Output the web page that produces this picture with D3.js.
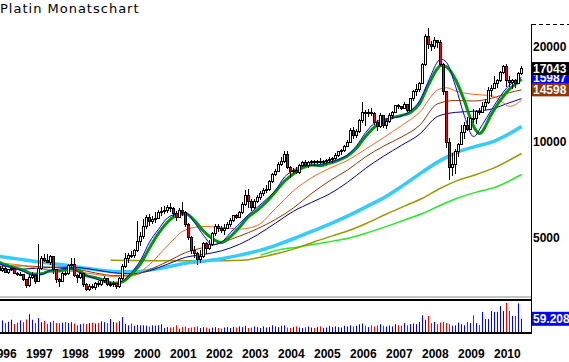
<!DOCTYPE html>
<html>
<head>
<meta charset="utf-8">
<script src="https://cdn.jsdelivr.net/npm/d3@7"></script>
<style>
  body { margin: 0; background: #fff; }
  svg { display: block; font-family: "Liberation Sans", Arial, sans-serif; }
</style>
</head>
<body>
<svg id="chart" width="569" height="362"></svg>
<script>
// monthly candles, Mar 1996 .. Oct 2010: [open, high, low, close]
const ohlc = [
  // 1996 (Mar-Dec)
  [4150,4230,4030,4060],[4060,4120,3920,3940],[3940,4060,3900,4000],[4000,4040,3870,3890],[3890,3990,3850,3960],
  [3960,4070,3930,3990],[3990,4020,3830,3860],[3860,3900,3780,3820],[3820,3890,3780,3830],[3830,3850,3640,3690],
  // 1997
  [3690,3700,3460,3520],[3520,3800,3500,3740],[3740,3880,3700,3800],[3800,3820,3580,3640],[3640,4760,3620,4000],[4000,4380,3960,4300],
  [4300,4450,4180,4220],[4220,4420,4150,4180],[4180,4400,4100,4350],[4350,4380,3850,3950],[3950,3990,3600,3680],[3680,3720,3480,3640],
  // 1998
  [3640,3900,3620,3860],[3860,4020,3780,3850],[3850,4130,3820,4080],[4080,4300,3980,4100],[4100,4300,3750,3800],[3800,3850,3600,3730],
  [3730,3900,3700,3850],[3850,3860,3480,3550],[3550,3600,3380,3430],[3430,3560,3400,3500],[3500,3560,3440,3480],[3480,3620,3420,3580],
  // 1999
  [3580,3640,3500,3560],[3560,3700,3520,3660],[3660,3780,3600,3720],[3720,3740,3520,3560],[3560,3620,3500,3560],[3560,3640,3500,3580],
  [3580,3600,3440,3500],[3500,3760,3470,3720],[3720,4120,3680,4050],[4050,4460,4000,4300],[4300,4480,4150,4400],[4400,4520,4300,4380],
  // 2000
  [4380,4600,4300,4550],[4550,5650,4500,4850],[4850,5200,4700,5050],[5050,5700,4950,5400],[5400,5900,5300,5800],[5800,5950,5450,5600],
  [5600,5850,5500,5700],[5700,6000,5550,5750],[5750,6100,5700,6000],[6000,6250,5850,6050],[6050,6300,5950,6100],[6100,6350,5980,6200],
  // 2001
  [6200,6400,6000,6150],[6150,6250,5800,5950],[5950,6050,5650,5800],[5800,6200,5750,6100],[6100,6450,5850,6000],[6000,6050,5400,5500],
  [5500,5550,4900,5000],[5000,5050,4450,4550],[4550,4700,4300,4450],[4450,4500,4100,4250],[4250,4550,4150,4350],[4350,4850,4300,4800],
  // 2002
  [4800,4850,4450,4600],[4600,4900,4550,4750],[4750,5200,4700,5150],[5150,5500,5050,5400],[5400,5500,5200,5350],[5350,5450,5150,5250],
  [5250,5500,5100,5350],[5350,5600,5300,5500],[5500,5750,5400,5650],[5650,5900,5600,5850],[5850,5950,5700,5800],[5800,6050,5750,5980],
  // 2003
  [5980,6450,5950,6350],[6350,7050,6300,6800],[6800,7100,6200,6500],[6500,6600,6050,6200],[6200,6600,6150,6500],[6500,6800,6400,6700],
  [6700,7000,6550,6900],[6900,7150,6750,7050],[7050,7300,6900,7100],[7100,7600,7000,7500],[7500,8000,7400,7900],[7900,8200,7800,8100],
  // 2004
  [8100,8650,8050,8500],[8500,8950,8400,8700],[8700,9400,8600,9100],[9100,9400,8200,8300],[8300,8400,7700,8050],[8050,8300,7950,8150],
  [8150,8350,7950,8000],[8000,8550,7950,8450],[8450,8700,8350,8600],[8600,8800,8350,8450],[8450,8700,8300,8600],[8600,8750,8400,8650],
  // 2005
  [8650,8800,8450,8600],[8600,8800,8500,8700],[8700,8900,8550,8650],[8650,8800,8550,8680],[8680,8850,8550,8720],[8720,8950,8600,8800],
  [8800,8950,8600,8900],[8900,9200,8800,9050],[9050,9400,8950,9300],[9300,9500,9100,9400],[9400,9800,9300,9700],[9700,10150,9650,9950],
  // 2006
  [9950,11050,9900,10900],[10900,11150,10200,10450],[10450,11000,10300,10800],[10800,11800,10700,11700],[11700,13400,11500,12400],[12400,12600,11200,12300],
  [12300,12700,12000,12400],[12400,12800,12100,12300],[12300,12400,11300,11500],[11500,11700,10800,11200],[11200,12300,11100,12100],[12100,12200,11050,11250],
  // 2007
  [11250,11800,11000,11600],[11600,12300,11500,12100],[12100,12500,11800,12400],[12400,13100,12300,13000],[13000,13200,12750,12900],[12900,13000,12600,12750],
  [12750,13350,12700,13100],[13100,13200,12400,12600],[12600,13800,12550,13700],[13700,14600,13500,14400],[14400,15200,14000,14600],[14600,15500,14400,15300],
  // 2008
  [15300,17800,15200,17500],[17500,21900,17300,21500],[21500,22900,19600,20300],[20300,20800,19300,20000],[20000,21500,19700,20900],[20900,21000,19800,20600],
  [20600,21000,17300,17600],[17600,17800,14100,14400],[14400,14500,9600,10000],[10000,10300,7600,8300],[8300,9200,7800,8500],[8500,9500,7900,9300],
  // 2009
  [9300,9900,9000,9850],[9850,11300,9800,10750],[10750,11600,10200,11250],[11250,12000,10800,10950],[10950,12000,10900,11900],[11900,12700,11450,11850],
  [11850,12600,11400,12500],[12500,12800,12150,12400],[12400,13400,12300,12900],[12900,13700,12650,13300],[13300,14900,13200,14550],[14550,15100,13900,14700],
  // 2010 (Jan-Oct)
  [14700,16200,14650,15300],[15300,15800,14800,15650],[15650,16700,15500,16550],[16550,17550,16400,17250],[17250,17600,14900,15650],
  [15650,16100,14950,15350],[15350,15800,14650,15600],[15600,15800,14850,15300],[15300,16600,15200,16450],[16450,17300,16300,17043]
];

const volumes = [
  44,48,52,40,46,55,36,42,52,44,
  56,80,55,40,62,44,50,36,44,50,40,40,
  42,45,40,44,38,30,35,38,36,40,42,38,
  40,48,44,40,58,45,42,48,67,36,30,38,
  28,32,30,30,28,25,30,28,30,35,18,22,
  20,22,30,15,22,25,18,20,22,25,18,22,
  20,15,20,22,18,15,20,22,18,22,20,25,
  22,28,18,20,25,22,18,25,20,22,30,25,
  22,28,30,20,18,22,25,20,18,22,25,20,
  18,22,25,18,20,28,22,25,22,20,28,25,
  30,25,28,35,38,28,22,30,25,30,35,28,
  25,30,25,35,30,28,40,30,35,38,35,45,
  75,55,72,40,45,35,42,45,40,35,28,30,
  42,35,30,45,40,75,40,32,90,58,58,94,
  90,90,116,94,130,94,72,72,128,59.208
];

const years = [1996,1997,1998,1999,2000,2001,2002,2003,2004,2005,2006,2007,2008,2009,2010];
const priceTicks = [5000, 10000, 20000];

// moving averages
const maGreen = [["1996-03",4209],["1996-06",4099],["1996-09",4017],["1996-12",3945],["1997-03",3837],["1997-06",3846],["1997-09",3924],["1997-12",3918],
  ["1998-03",3979],["1998-06",3953],["1998-09",3793],["1998-12",3734],["1999-03",3663],["1999-06",3586],["1999-09",3623],["1999-12",3833],
  ["2000-03",4125],["2000-06",4633],["2000-09",5148],["2000-12",5588],["2001-03",5875],["2001-06",5942],["2001-09",5654],["2001-12",5242],
  ["2002-03",4958],["2002-06",4825],["2002-09",5033],["2002-12",5386],["2003-03",5815],["2003-06",6098],["2003-09",6478],["2003-12",6967],
  ["2004-03",7521],["2004-06",7946],["2004-09",8279],["2004-12",8463],["2005-03",8433],["2005-06",8575],["2005-09",8758],["2005-12",9038],
  ["2006-03",9554],["2006-06",10404],["2006-09",11150],["2006-12",11608],["2007-03",11938],["2007-06",12125],["2007-09",12392],["2007-12",13204],
  ["2008-03",15138],["2008-06",17042],["2008-07",17417],["2008-09",17258],["2008-12",15742],["2009-03",13454],["2009-06",11221],["2009-08",10629],
  ["2009-12",12242],["2010-03",13546],["2010-06",14675],["2010-09",15471],["2010-10",15783]];
const maBlue = [["1996-03",4171],["1996-06",4059],["1996-09",4000],["1996-12",3904],["1997-03",3810],["1997-06",3820],["1997-09",3944],["1997-12",3976],
  ["1998-03",4011],["1998-06",3904],["1998-09",3789],["1998-12",3710],["1999-03",3606],["1999-06",3563],["1999-09",3649],["1999-12",3877],
  ["2000-03",4238],["2000-06",4838],["2000-09",5308],["2000-12",5765],["2001-03",5930],["2001-06",5985],["2001-09",5570],["2001-12",5080],
  ["2002-03",4740],["2002-06",4835],["2002-09",5180],["2002-12",5528],["2003-03",5903],["2003-06",6233],["2003-09",6608],["2003-12",7045],
  ["2004-03",7755],["2004-06",8140],["2004-09",8395],["2004-12",8435],["2005-03",8485],["2005-06",8645],["2005-09",8805],["2005-12",9115],
  ["2006-03",9725],["2006-06",10690],["2006-09",11470],["2006-12",11795],["2007-03",11915],["2007-06",12080],["2007-09",12540],["2007-12",13475],
  ["2008-03",15575],["2008-06",17880],["2008-07",18270],["2008-09",17810],["2008-12",14990],["2009-03",12055],["2009-06",10400],["2009-09",11365],
  ["2009-12",12630],["2010-03",13970],["2010-06",15120],["2010-09",15780],["2010-10",15987]];
const maOrange = [["1996-03",4160],["1996-06",4139],["1996-12",4079],["1997-06",3973],["1997-12",3932],["1998-06",3900],["1998-12",3826],
  ["1999-06",3770],["1999-12",3783],["2000-06",4110],["2000-12",4710],["2001-06",5288],["2001-12",5415],["2002-06",5383],["2002-12",5314],
  ["2003-06",5462],["2003-12",6176],["2004-06",7022],["2004-12",7715],["2005-06",8260],["2005-12",8750],["2006-06",9490],["2006-12",10323],
  ["2007-06",11265],["2007-12",12406],["2008-06",14583],["2008-09",14825],["2008-12",14473],["2009-06",14131],["2009-12",13992],
  ["2010-03",13500],["2010-06",12948],["2010-10",13535]];
const maBrown = [["1996-03",4060],["1996-06",4059],["1996-12",4069],["1997-06",4041],["1997-12",4025],["1998-06",3966],["1998-12",3866],
  ["1999-06",3795],["1999-12",3800],["2000-06",3960],["2000-12",4200],["2001-06",4480],["2001-12",4650],["2002-06",4820],["2002-12",5050],
  ["2003-06",5330],["2003-12",5700],["2004-06",6200],["2004-12",6880],["2005-06",7540],["2005-12",8156],["2006-06",8975],["2006-12",9703],
  ["2007-06",10368],["2007-12",11283],["2008-06",13190],["2008-12",13518],["2009-06",13463],["2009-12",13729],["2010-06",14313],["2010-10",14598]];
const maNavy = [["1996-03",3930],["1996-06",3938],["1996-12",3977],["1997-06",4006],["1997-12",4031],["1998-06",4019],["1998-12",3953],
  ["1999-06",3871],["1999-12",3840],["2000-06",3930],["2000-12",4120],["2001-06",4330],["2001-12",4420],["2002-06",4540],["2002-12",4760],
  ["2003-06",5100],["2003-12",5550],["2004-06",6050],["2004-12",6450],["2005-06",6861],["2005-12",7463],["2006-06",8256],["2006-12",9019],
  ["2007-06",9763],["2007-12",10578],["2008-06",12036],["2008-12",12398],["2009-06",12500],["2009-12",12700],["2010-06",13300],["2010-10",13700]];
const maCyan = [["1996-03",4370],["1996-07",4320],["1997-01",4240],["1997-07",4170],["1998-01",4100],["1998-07",4020],["1999-01",3950],
  ["1999-07",3900],["2000-01",3900],["2000-07",3960],["2001-01",4060],["2001-07",4160],["2002-01",4220],["2002-07",4300],["2003-01",4420],
  ["2003-07",4560],["2004-01",4760],["2004-07",5000],["2005-01",5270],["2005-07",5560],["2006-01",5900],["2006-07",6300],["2007-01",6750],
  ["2007-07",7350],["2008-01",8050],["2008-07",8750],["2009-01",9320],["2009-07",9700],["2010-01",10070],["2010-10",11190]];
const maOlive = [["1999-05",4240],["2000-01",4230],["2001-01",4220],["2002-01",4220],["2003-01",4240],["2003-07",4330],["2004-01",4460],
  ["2004-07",4630],["2005-01",4850],["2005-07",5060],["2006-01",5280],["2006-07",5580],["2007-01",5930],["2007-07",6280],["2008-01",6650],
  ["2008-07",7150],["2009-01",7580],["2009-07",7900],["2010-01",8300],["2010-10",9200]];
const maLime = [["2003-07",4400],["2004-01",4570],["2004-07",4660],["2005-01",4760],["2005-07",4870],["2006-01",4990],["2006-07",5190],
  ["2007-01",5420],["2007-07",5680],["2008-01",5950],["2008-07",6320],["2009-01",6670],["2009-07",6950],["2010-01",7190],["2010-10",7900]];

const width = 569;
const height = 362;
const axisX = 531;

const monthIndex = s => {
    const [yr, mo] = s.split('-').map(Number);
    return (yr - 1996) * 12 + mo - 3;
};

const x = d3.scaleLinear().domain([10, 175]).range([26.5, 521.5]);
const y = d3.scaleLog().domain([5000, 20000]).range([237.5, 46.5]);
const yVol = d3.scaleLinear().domain([0, 130]).range([332, 303]);

const svg = d3.select('#chart');
svg.append('rect').attr('width', width).attr('height', height).attr('fill', '#fff');

svg.append('text')
    .attr('x', 0).attr('y', 13)
    .style('font-family', '"DejaVu Sans"')
    .style('font-size', '13px')
    .style('letter-spacing', '1px')
    .text('Platin Monatschart');

svg.append('defs').append('clipPath').attr('id', 'clipMain')
    .append('rect').attr('x', 0).attr('y', 0).attr('width', axisX).attr('height', 296);

const main = svg.append('g').attr('clip-path', 'url(#clipMain)');

const line = d3.line()
    .x(d => x(monthIndex(d[0])))
    .y(d => y(d[1]))
    .curve(d3.curveMonotoneX);

const averages = [
    { data: maLime, color: '#22ee22', w: 1.5 },
    { data: maOlive, color: '#999900', w: 1.5 },
    { data: maCyan, color: '#33ccff', w: 3.5 },
    { data: maNavy, color: '#000099', w: 1 },
    { data: maBrown, color: '#993300', w: 1 },
    { data: maOrange, color: '#ff6622', w: 1 },
    { data: maGreen, color: '#009900', w: 3 },
    { data: maBlue, color: '#0000ff', w: 1 }
];

averages.forEach(a => {
    main.append('path')
        .datum(a.data)
        .attr('d', line)
        .attr('fill', 'none')
        .attr('stroke', a.color)
        .attr('stroke-width', a.w);
});

// candles
const cg = main.append('g');
cg.selectAll('line').data(ohlc).join('line')
    .attr('x1', (d, i) => x(i)).attr('x2', (d, i) => x(i))
    .attr('y1', d => y(d[1])).attr('y2', d => y(d[2]))
    .attr('stroke', '#000')
    .attr('shape-rendering', 'crispEdges');
cg.selectAll('rect').data(ohlc).join('rect')
    .attr('x', (d, i) => x(i) - 1)
    .attr('width', 2)
    .attr('y', d => y(Math.max(d[0], d[3])))
    .attr('height', d => Math.max(1, Math.abs(y(d[0]) - y(d[3]))))
    .attr('fill', d => d[3] < d[0] ? '#ff0000' : '#fff')
    .attr('stroke', '#000')
    .attr('shape-rendering', 'crispEdges');

// separator between price and volume
svg.append('rect').attr('x', 0).attr('y', 296).attr('width', axisX).attr('height', 2).attr('fill', '#c4c4c4');
svg.append('rect').attr('x', 0).attr('y', 299).attr('width', axisX).attr('height', 2).attr('fill', '#000');

// volume
svg.append('g').selectAll('rect').data(volumes).join('rect')
    .attr('x', (d, i) => x(i) - 0.5)
    .attr('width', 1)
    .attr('y', d => yVol(d))
    .attr('height', d => yVol(0) - yVol(d))
    .attr('fill', (d, i) => ohlc[i][3] < ohlc[i][0] ? '#ff0000' : '#0000ff');
svg.append('rect').attr('x', 0).attr('y', 332).attr('width', axisX).attr('height', 2).attr('fill', '#000');

// right axis frame
svg.append('rect').attr('x', axisX).attr('y', 24).attr('width', 1).attr('height', 310).attr('fill', '#000');
svg.append('line')
    .attr('x1', axisX + 1).attr('x2', width)
    .attr('y1', 24.5).attr('y2', 24.5)
    .attr('stroke', '#000')
    .attr('stroke-dasharray', '4,3');

const yAxis = svg.append('g')
    .attr('transform', `translate(${axisX},0)`)
    .call(d3.axisRight(y).tickValues(priceTicks).tickSize(0).tickPadding(2).tickFormat(d3.format('d')));
yAxis.select('.domain').remove();
yAxis.selectAll('text')
    .style('font-size', '12px').style('font-weight', 'bold')
    .style('font-family', '"Liberation Sans", Arial, sans-serif')
    .attr('fill', '#000');

// value boxes on the right
const last = ohlc.length - 1;
const boxes = [
    { v: maBlue[maBlue.length - 1][1], bg: '#0000ff' },
    { v: ohlc[last][3], bg: '#000000' },
    { v: maBrown[maBrown.length - 1][1], bg: '#993300' }
];
boxes.forEach(b => {
    svg.append('rect').attr('x', axisX + 1).attr('y', y(b.v) - 6.5)
        .attr('width', width - axisX).attr('height', 13).attr('fill', b.bg);
    svg.append('text').attr('x', axisX + 2).attr('y', y(b.v) + 4.5)
        .attr('fill', '#fff')
        .style('font-size', '12px').style('font-weight', 'bold')
        .text(d3.format('d')(b.v));
});

const vLast = volumes[volumes.length - 1];
svg.append('rect').attr('x', axisX + 1).attr('y', yVol(vLast) - 7)
    .attr('width', width - axisX).attr('height', 14).attr('fill', '#0000ff');
svg.append('text').attr('x', axisX + 2).attr('y', yVol(vLast) + 4.5)
    .attr('fill', '#fff')
    .style('font-size', '12px').style('font-weight', 'bold')
    .text(d3.format('.3f')(vLast));

// year labels
const xAxis = svg.append('g')
    .attr('transform', 'translate(0,340)')
    .call(d3.axisBottom(x)
        .tickValues(years.map(yr => monthIndex(`${yr}-01`)))
        .tickSize(0).tickPadding(9.5)
        .tickFormat((d, i) => years[i]));
xAxis.select('.domain').remove();
xAxis.selectAll('text')
    .attr('text-anchor', 'start').attr('x', -1)
    .style('font-size', '12px').style('font-weight', 'bold')
    .style('font-family', '"Liberation Sans", Arial, sans-serif')
    .attr('fill', '#000');
</script>
</body>
</html>
